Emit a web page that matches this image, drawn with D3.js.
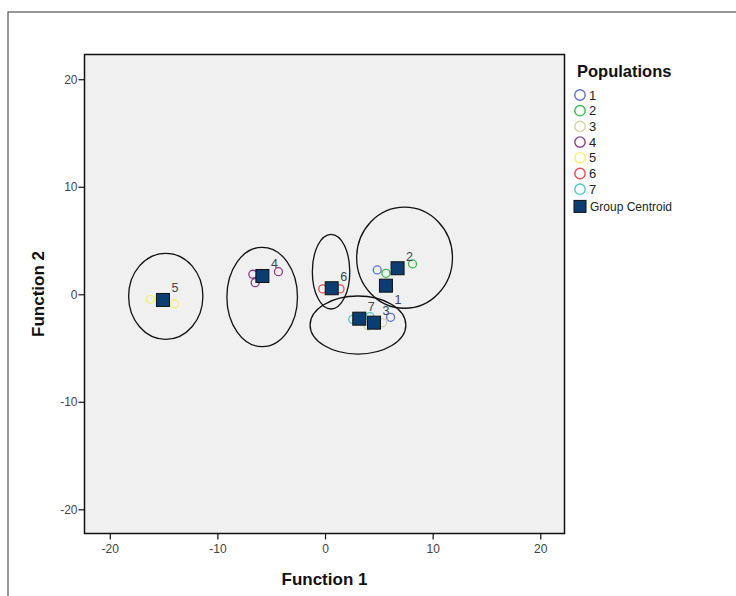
<!DOCTYPE html>
<html><head><meta charset="utf-8">
<script src="https://cdn.jsdelivr.net/npm/d3@7"></script>
<style>body{margin:0;background:#fff}svg{display:block}</style>
</head><body>
<svg id="c" width="736" height="596"></svg>
<script>
const populations = ["1","2","3","4","5","6","7"];
const popColors = ["#5b6fcc","#3cb84e","#d8d2a2","#8a3a8e","#f4f06a","#ef4a4e","#4fc6c8"];
// individual cases: [population, function1, function2]
const casePop = ["1","1","2","2","3","3","4","4","4","5","5","6","6","7","7"];
const caseF1  = [4.85, 6.09, 8.13, 5.66, 5.35, 4.02, -6.71, -6.49, -4.33, -16.23, -14.0, -0.21, 1.39, 2.57, 4.17];
const caseF2  = [2.26, -2.14, 2.82, 1.95, -2.64, -2.95, 1.86, 1.08, 2.10, -0.47, -0.90, 0.50, 0.50, -2.33, -2.08];
// group centroids
const centroidF1 = [5.66, 6.74, 4.55, -5.82, -15.06, 0.62, 3.18];
const centroidF2 = [0.80, 2.42, -2.64, 1.70, -0.53, 0.56, -2.27];
// hand-drawn ellipses: centre x, centre y, radius x, radius y (data units)
const ellCx = [-14.8, -5.84, 0.56, 7.39, 3.06];
const ellCy = [-0.19, -0.25, 2.1, 3.4, -2.86];
const ellRx = [3.45, 3.28, 1.74, 4.45, 4.45];
const ellRy = [4.0, 4.62, 3.47, 4.7, 2.7];
const xTicks = [-20, -10, 0, 10, 20];
const yTicks = [-20, -10, 0, 10, 20];

const svg = d3.select("#c");
const font = "'Liberation Sans', Arial, sans-serif";
// outer frame
svg.append("rect").attr("x",8).attr("y",12).attr("width",760).attr("height",620)
  .attr("fill","none").attr("stroke","#333").attr("stroke-width",1);

const L = 84.5, R = 564.5, T = 54.5, B = 533.5;
const x = d3.scaleLinear().domain([-22.35, 22.25]).range([L, R]);
const y = d3.scaleLinear().domain([-22.25, 22.3]).range([B, T]);

svg.append("rect").attr("x",L).attr("y",T).attr("width",R-L).attr("height",B-T)
  .attr("fill","#f0f0f0").attr("stroke","#111").attr("stroke-width",1.5);

const fmt = d => String(d);
const gx = svg.append("g").attr("transform",`translate(0,${B})`)
  .call(d3.axisBottom(x).tickValues(xTicks).tickSize(6).tickPadding(5).tickFormat(fmt));
const gy = svg.append("g").attr("transform",`translate(${L},0)`)
  .call(d3.axisLeft(y).tickValues(yTicks).tickSize(6).tickPadding(1).tickFormat(fmt));
[gx, gy].forEach(g => {
  g.select(".domain").remove();
  g.selectAll(".tick line").attr("stroke","#111").attr("stroke-width",1.2);
  g.selectAll(".tick text").attr("fill","#444").style("font-family",font).style("font-size","12px");
});

svg.append("text").attr("x",(L+R)/2).attr("y",585).attr("text-anchor","middle")
  .style("font-family",font).style("font-size","17px").style("font-weight","bold").attr("fill","#111")
  .text("Function 1");
svg.append("text").attr("transform",`translate(44,${(T+B)/2}) rotate(-90)`).attr("text-anchor","middle")
  .style("font-family",font).style("font-size","17px").style("font-weight","bold").attr("fill","#111")
  .text("Function 2");

const plot = svg.append("g");
// ellipses
plot.selectAll("ellipse").data(ellCx).join("ellipse")
  .attr("cx",(d,i)=>x(d)).attr("cy",(d,i)=>y(ellCy[i]))
  .attr("rx",(d,i)=>x(ellRx[i])-x(0)).attr("ry",(d,i)=>y(0)-y(ellRy[i]))
  .attr("fill","none").attr("stroke","#111").attr("stroke-width",1.3);

const color = d3.scaleOrdinal().domain(populations).range(popColors);
plot.selectAll("circle.case").data(casePop).join("circle").attr("class","case")
  .attr("cx",(d,i)=>x(caseF1[i])).attr("cy",(d,i)=>y(caseF2[i])).attr("r",4)
  .attr("fill","none").attr("stroke",d=>color(d)).attr("stroke-width",1.3);

const S = 13;
plot.selectAll("rect.cent").data(populations).join("rect").attr("class","cent")
  .attr("x",(d,i)=>x(centroidF1[i])-S/2).attr("y",(d,i)=>y(centroidF2[i])-S/2)
  .attr("width",S).attr("height",S).attr("fill","#0b3d73").attr("stroke","#111").attr("stroke-width",1);

plot.selectAll("text.lab").data(populations).join("text").attr("class","lab")
  .attr("x",(d,i)=>x(centroidF1[i])+12).attr("y",(d,i)=>y(centroidF2[i]) + (d==="1" ? 14 : -12))
  .attr("text-anchor","middle").attr("dy","0.35em")
  .style("font-family",font).style("font-size","12.5px").attr("fill","#444").text(d=>d);

// legend
const lg = svg.append("g");
lg.append("text").attr("x",577).attr("y",77).style("font-family",font).style("font-size","16.5px")
  .style("font-weight","bold").attr("fill","#111").text("Populations");
const step = 15.7;
populations.forEach((p,i)=>{
  const cy = 95 + i*step;
  lg.append("circle").attr("cx",580).attr("cy",cy).attr("r",5.2).attr("fill","none")
    .attr("stroke",color(p)).attr("stroke-width",1.4);
  lg.append("text").attr("x",589).attr("y",cy).attr("dy","0.36em").style("font-family",font)
    .style("font-size","13px").attr("fill","#222").text(p);
});
const gcY = 95 + 7*step + 1.5;
lg.append("rect").attr("x",574).attr("y",gcY-6).attr("width",12).attr("height",12)
  .attr("fill","#0b3d73").attr("stroke","#111").attr("stroke-width",1);
lg.append("text").attr("x",590).attr("y",gcY).attr("dy","0.36em").style("font-family",font)
  .style("font-size","12px").attr("fill","#222").text("Group Centroid");
</script>
</body></html>
